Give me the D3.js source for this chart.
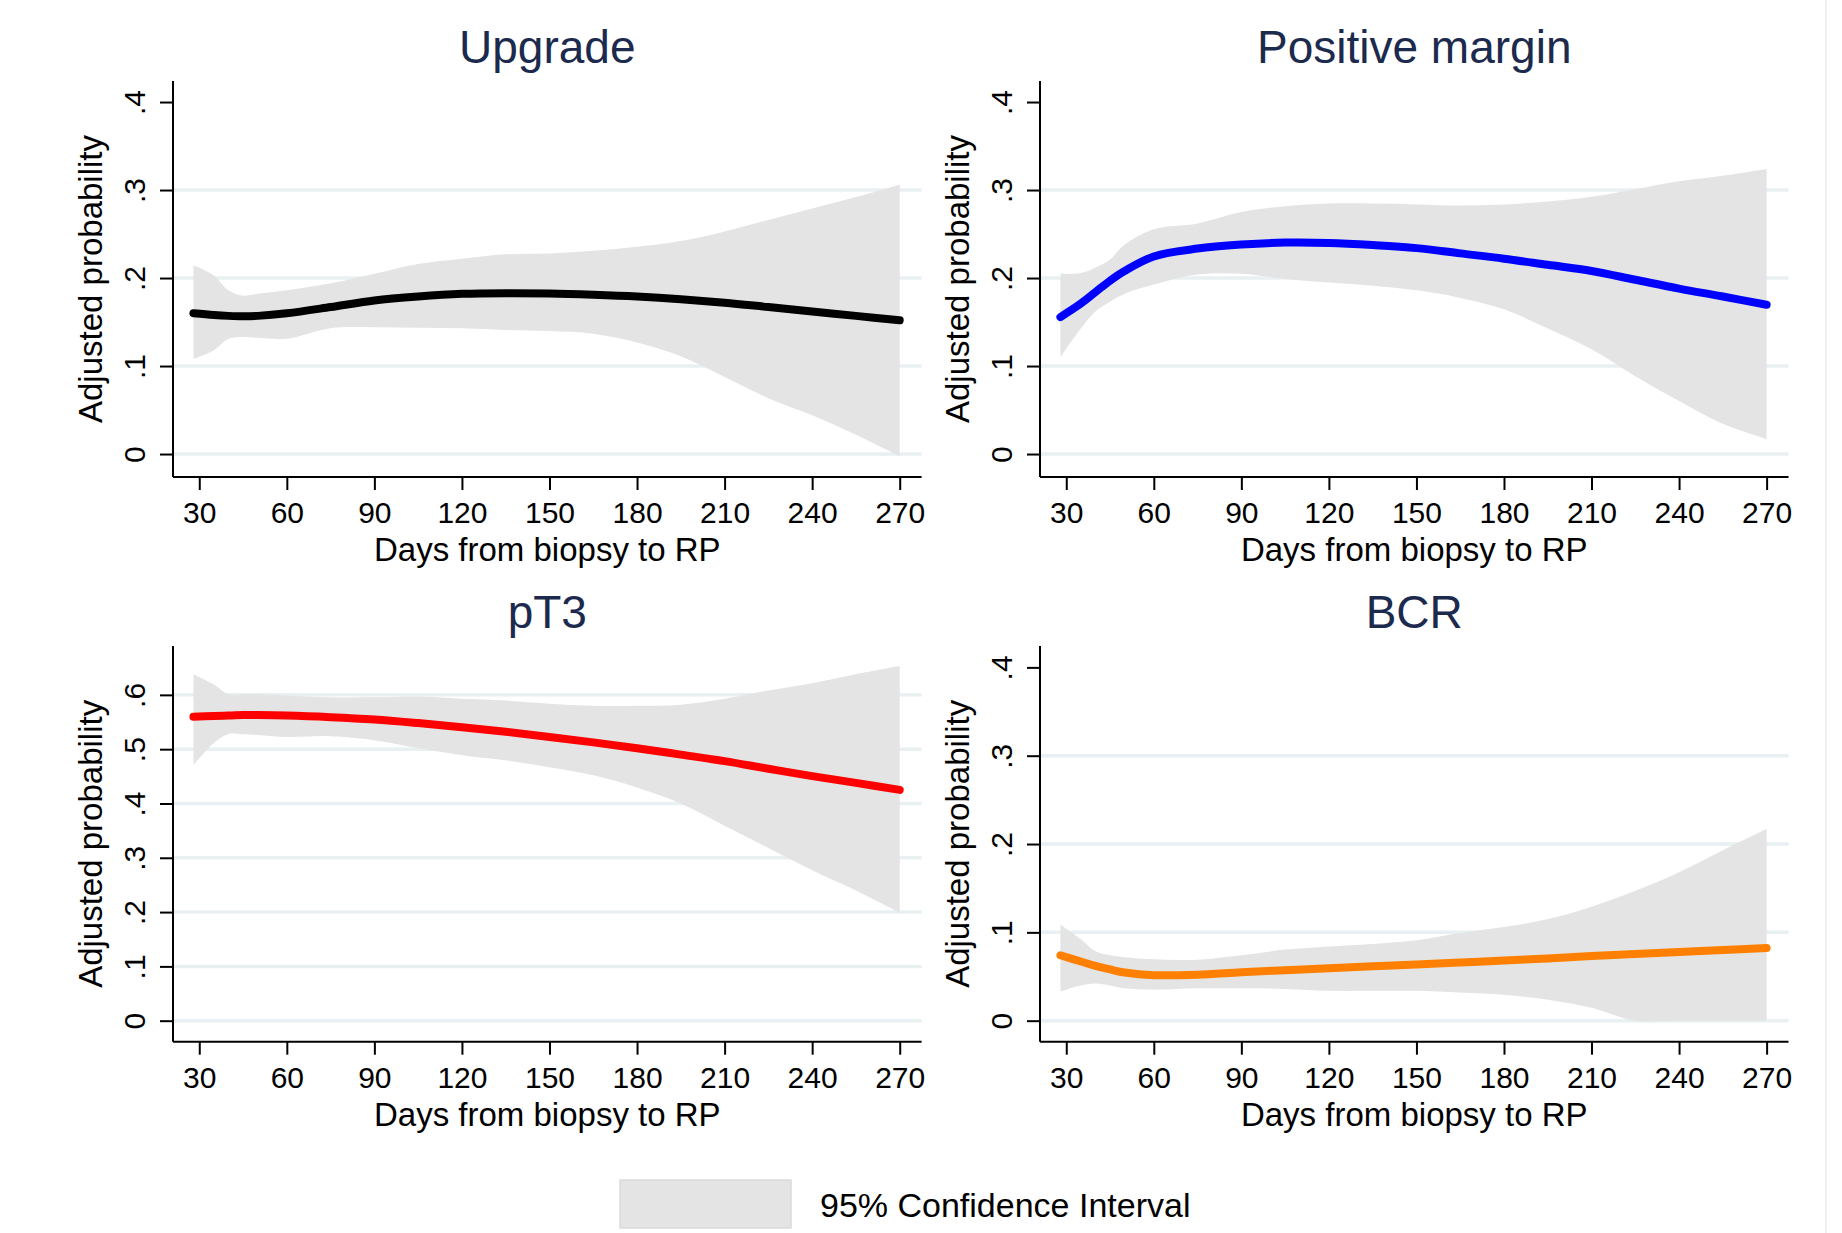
<!DOCTYPE html>
<html>
<head>
<meta charset="utf-8">
<script src="https://cdn.jsdelivr.net/npm/d3@7"></script>
<style>
  body { margin: 0; background: #fff; }
  text { font-family: "Liberation Sans", Arial, Helvetica, sans-serif; }
</style>
</head>
<body>
<div id="chart"></div>
<script>
var days = [28, 35, 40, 45, 50, 60, 75, 90, 105, 120, 135, 150, 165, 180, 195, 210, 225, 240, 255, 270];

var upgradeEst = [.160, .158, .157, .1565, .157, .160, .167, .1745, .179, .182, .1828, .1824, .181, .179, .176, .172, .167, .162, .157, .152];
var upgradeLo = [.108, .118, .131, .133, .132, .131, .143, .144, .1435, .1428, .141, .1397, .1367, .1267, .111, .0875, .0635, .044, .022, -.0026];
var upgradeHi = [.2146, .203, .186, .180, .182, .186, .194, .205, .216, .222, .227, .228, .231, .2355, .242, .253, .266, .279, .292, .306];

var marginEst = [.1557, .171, .184, .197, .208, .2245, .2335, .238, .2403, .2399, .2375, .234, .228, .222, .215, .208, .198, .188, .179, .1696];
var marginLo = [.110, .1427, .162, .173, .182, .1926, .204, .2048, .199, .1948, .1913, .186, .1774, .1644, .1427, .119, .0885, .0603, .0343, .0169];
var marginHi = [.2048, .2056, .212, .221, .238, .2555, .262, .275, .2816, .2846, .2846, .2837, .2824, .2837, .287, .2924, .301, .310, .3163, .324];

var pt3Est = [.5598, .561, .562, .5628, .5628, .562, .559, .5546, .548, .5405, .532, .5226, .5125, .5017, .490, .478, .464, .4504, .438, .425];
var pt3Lo = [.4705, .5114, .528, .5275, .5263, .5226, .524, .5166, .5017, .489, .4794, .4668, .4519, .4295, .3998, .3588, .3179, .277, .2397, .1988];
var pt3Hi = [.638, .619, .601, .601, .601, .599, .5955, .5955, .597, .593, .5896, .5836, .580, .580, .582, .593, .608, .6216, .638, .653];

var bcrEst = [.0741, .067, .062, .058, .0545, .0515, .0521, .0549, .0572, .0594, .0615, .0635, .0658, .068, .0705, .0731, .0754, .0777, .080, .0823];
var bcrLo = [.033, .0398, .042, .0398, .0366, .035, .0366, .0366, .036, .0338, .0338, .0338, .032, .0293, .0238, .0146, 0, 0, 0, 0];
var bcrHi = [.109, .0923, .0786, .074, .0718, .0695, .069, .074, .0805, .0841, .0869, .091, .0992, .106, .115, .129, .147, .168, .193, .217];

var xTicks = [30, 60, 90, 120, 150, 180, 210, 240, 270];
var yTicks4 = [0, .1, .2, .3, .4];
var yTicks6 = [0, .1, .2, .3, .4, .5, .6];
var grid4 = [0, .1, .2, .3];
var grid6 = [0, .1, .2, .3, .4, .5, .6];

var titles = ['Upgrade', 'Positive margin', 'pT3', 'BCR'];
var lineColors = ['#000000', '#0000ff', '#ff0000', '#ff8000'];
var legendLabel = '95% Confidence Interval';

var panels = [
  {title: titles[0], est: upgradeEst, lo: upgradeLo, hi: upgradeHi, color: lineColors[0], ticks: yTicks4, grid: grid4, yDom: [-0.0261, 0.4239], x0: 173, x1: 921.6, y0: 81, y1: 477},
  {title: titles[1], est: marginEst, lo: marginLo, hi: marginHi, color: lineColors[1], ticks: yTicks4, grid: grid4, yDom: [-0.0261, 0.4239], x0: 1040, x1: 1788.5, y0: 81, y1: 477},
  {title: titles[2], est: pt3Est, lo: pt3Lo, hi: pt3Hi, color: lineColors[2], ticks: yTicks6, grid: grid6, yDom: [-0.0387, 0.690], x0: 173, x1: 921.6, y0: 646, y1: 1041.7},
  {title: titles[3], est: bcrEst, lo: bcrLo, hi: bcrHi, color: lineColors[3], ticks: yTicks4, grid: grid4, yDom: [-0.0238, 0.4242], x0: 1040, x1: 1788.5, y0: 646, y1: 1041.7}
];

var W = 1842,
H = 1233;

var svg = d3.select('#chart').
append('svg').
attr('width', W).
attr('height', H);

svg.append('rect').
attr('width', W).
attr('height', H).
attr('fill', '#fff');

// faint frame edge on the right
svg.append('line').
attr('x1', 1826).attr('x2', 1826).
attr('y1', 0).attr('y2', H).
attr('stroke', '#ececec').
attr('stroke-width', 1.5);

var yFmt = function (v) {
  return v === 0 ? '0' : d3.format('.1f')(v).replace(/^0/, '');
};

panels.forEach(function (p) {
  var x = d3.scaleLinear().domain([21, 277.5]).range([p.x0, p.x1]);
  var y = d3.scaleLinear().domain(p.yDom).range([p.y1, p.y0]);
  var rows = days.map(function (d, i) {
    return {day: d, est: p.est[i], lo: p.lo[i], hi: p.hi[i]};
  });

  var g = svg.append('g');

  // grid
  g.selectAll('.grid').
  data(p.grid).
  enter().
  append('line').
  attr('x1', p.x0).
  attr('x2', p.x1).
  attr('y1', d => y(d)).
  attr('y2', d => y(d)).
  attr('stroke', '#e9f0f2').
  attr('stroke-width', 3.5);

  // confidence band
  var band = d3.area().
  x(d => x(d.day)).
  y0(d => y(d.lo)).
  y1(d => y(d.hi)).
  curve(d3.curveCatmullRom.alpha(0.5));

  g.append('path').
  datum(rows).
  attr('d', band).
  attr('fill', '#e4e4e4');

  var line = d3.line().
  x(d => x(d.day)).
  y(d => y(d.est)).
  curve(d3.curveCatmullRom.alpha(0.5));

  g.append('path').
  datum(rows).
  attr('d', line).
  attr('fill', 'none').
  attr('stroke', p.color).
  attr('stroke-width', 8).
  attr('stroke-linecap', 'round');

  // axes
  var xAxis = d3.axisBottom(x).
  tickValues(xTicks).
  tickSize(13).
  tickPadding(10).
  tickSizeOuter(0);

  var xg = g.append('g').
  attr('transform', 'translate(0,' + p.y1 + ')').
  call(xAxis);
  xg.select('.domain').attr('stroke', '#000').attr('stroke-width', 2).
  attr('d', 'M' + p.x0 + ',0H' + p.x1);
  xg.selectAll('.tick line').attr('stroke', '#000').attr('stroke-width', 2);
  xg.selectAll('.tick text').
  attr('font-size', 30).
  attr('fill', '#000').
  attr('dy', null).
  attr('y', 46);

  var yAxis = d3.axisLeft(y).
  tickValues(p.ticks).
  tickSize(13).
  tickFormat(yFmt).
  tickSizeOuter(0);

  var yg = g.append('g').
  attr('transform', 'translate(' + p.x0 + ',0)').
  call(yAxis);
  yg.select('.domain').attr('stroke', '#000').attr('stroke-width', 2).
  attr('d', 'M0,' + p.y0 + 'V' + p.y1);
  yg.selectAll('.tick line').attr('stroke', '#000').attr('stroke-width', 2);
  yg.selectAll('.tick text').
  attr('font-size', 30).
  attr('fill', '#000').
  attr('x', null).
  attr('dy', null).
  attr('text-anchor', 'middle').
  attr('transform', 'translate(-28,0) rotate(-90)');

  // titles
  g.append('text').
  attr('x', (p.x0 + p.x1) / 2).
  attr('y', p.y0 - 18).
  attr('text-anchor', 'middle').
  attr('font-size', 46).
  attr('fill', '#1c2a4e').
  text(p.title);

  g.append('text').
  attr('x', (p.x0 + p.x1) / 2).
  attr('y', p.y1 + 84).
  attr('text-anchor', 'middle').
  attr('font-size', 33).
  attr('fill', '#000').
  text('Days from biopsy to RP');

  g.append('text').
  attr('transform', 'translate(' + (p.x0 - 71) + ',' + (p.y0 + p.y1) / 2 + ') rotate(-90)').
  attr('text-anchor', 'middle').
  attr('font-size', 33).
  attr('fill', '#000').
  text('Adjusted probability');
});

// legend
var legend = svg.append('g');
legend.append('rect').
attr('x', 620).
attr('y', 1180).
attr('width', 171).
attr('height', 48).
attr('fill', '#e4e4e4').
attr('stroke', '#dadada').
attr('stroke-width', 1.5);

legend.append('text').
attr('x', 820).
attr('y', 1217).
attr('font-size', 34).
attr('fill', '#000').
text(legendLabel);
</script>
</body>
</html>
